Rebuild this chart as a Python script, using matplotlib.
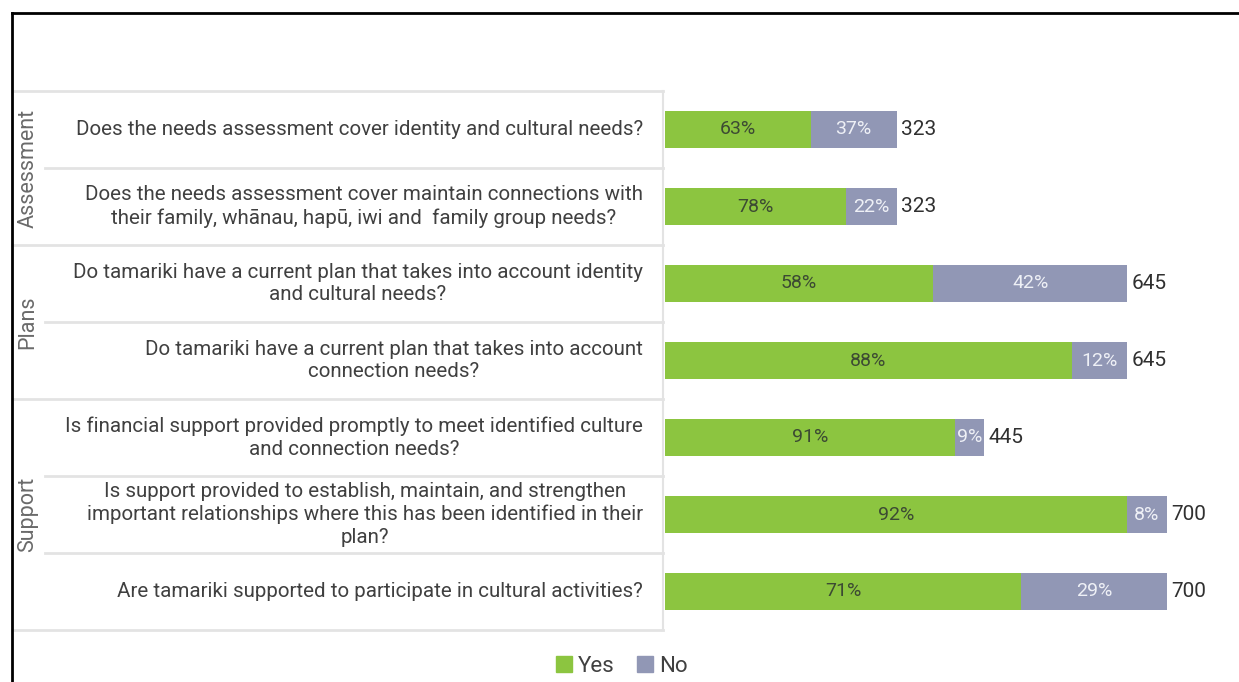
import matplotlib
matplotlib.use("Agg")
import matplotlib.pyplot as plt
import matplotlib.transforms as mtransforms
from matplotlib.lines import Line2D
from matplotlib.patches import Patch

plt.rcParams['font.family'] = ['Roboto', 'DejaVu Sans']

# data
groups = ['Assessment', 'Plans', 'Support']
group_rows = [(0, 1), (2, 3), (4, 6)]
questions = [
    'Does the needs assessment cover identity and cultural needs?',
    'Does the needs assessment cover maintain connections with\ntheir family, whānau, hapū, iwi and  family group needs?',
    'Do tamariki have a current plan that takes into account identity\nand cultural needs?',
    'Do tamariki have a current plan that takes into account\nconnection needs?',
    'Is financial support provided promptly to meet identified culture\nand connection needs?',
    'Is support provided to establish, maintain, and strengthen\nimportant relationships where this has been identified in their\nplan?',
    'Are tamariki supported to participate in cultural activities?',
]
yes_pct = [63, 78, 58, 88, 91, 92, 71]
no_pct = [37, 22, 42, 12, 9, 8, 29]
totals = [323, 323, 645, 645, 445, 700, 700]

green = '#8cc540'
grey = '#9197b5'
line_col = '#e3e3e3'
text_col = '#404040'

W, H = 1239, 682
fig = plt.figure(figsize=(W / 100, H / 100), dpi=100)
ax = fig.add_axes([665 / W, 1 - 630 / H, 1 - 665 / W, (630 - 91) / H])

rows = list(range(len(questions)))
yes_n = [t * p / 100 for t, p in zip(totals, yes_pct)]
no_n = [t * p / 100 for t, p in zip(totals, no_pct)]

ax.barh(rows, yes_n, height=0.49, color=green)
ax.barh(rows, no_n, left=yes_n, height=0.49, color=grey)

for i in rows:
    ax.text(yes_n[i] / 2, i, f'{yes_pct[i]}%', ha='center', va='center',
            fontsize=14, color='#3c4a33')
    ax.text(yes_n[i] + no_n[i] / 2, i, f'{no_pct[i]}%', ha='center', va='center',
            fontsize=14, color='#eef0f6')
    ax.text(totals[i] + 6, i, str(totals[i]), ha='left', va='center',
            fontsize=15, color='#303030')

ax.set_xlim(0, (W - 665) / 0.717)
ax.set_ylim(6.5, -0.5)
ax.axis('off')

# labels and table lines to the left of the bars
tr = mtransforms.blended_transform_factory(fig.transFigure, ax.transData)
for i, q in enumerate(questions):
    ax.text(643 / W, i, q, transform=tr, ha='right', va='center',
            multialignment='center', fontsize=14.8, color=text_col,
            linespacing=1.25, clip_on=False)

for g, (a, b) in zip(groups, group_rows):
    ax.text(28 / W, (a + b) / 2, g, transform=tr, rotation=90, ha='center',
            va='center', fontsize=15.5, color='#6a6a6a', clip_on=False)

for y in [-0.5, 1.5, 3.5, 6.5]:
    ax.add_line(Line2D([12 / W, 663 / W], [y, y], transform=tr, color=line_col,
                       lw=2, clip_on=False))
for y in [0.5, 2.5, 4.5, 5.5]:
    ax.add_line(Line2D([45 / W, 663 / W], [y, y], transform=tr, color=line_col,
                       lw=2, clip_on=False))
ax.add_line(Line2D([663 / W, 663 / W], [-0.5, 6.5], transform=tr, color=line_col,
                   lw=1.5, clip_on=False))

# outer black frame
fig.add_artist(Line2D([12 / W, 12 / W], [0, 1 - 13 / H], color='black', lw=2))
fig.add_artist(Line2D([12 / W, 1], [1 - 13 / H, 1 - 13 / H], color='black', lw=2))

handles = [Patch(color=green, label='Yes'), Patch(color=grey, label='No')]
fig.legend(handles=handles, loc='center', bbox_to_anchor=(0.502, 1 - 666 / H),
           ncol=2, frameon=False, fontsize=16, handlelength=0.7, handleheight=0.7,
           handletextpad=0.3, columnspacing=1.0, labelcolor='#404040')

fig.savefig('out.png', dpi=100, facecolor='white')
